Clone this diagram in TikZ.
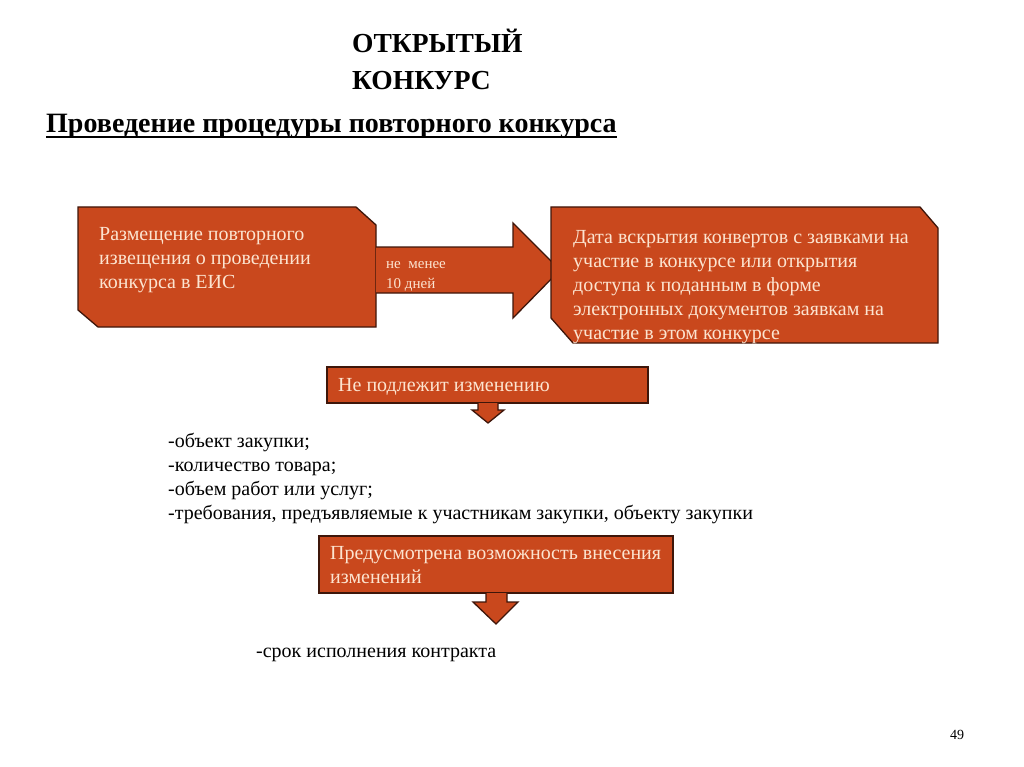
\documentclass[tikz,border=0pt]{standalone}
\usepackage{fontspec}
\setmainfont{Liberation Serif}
\usepackage{xcolor}
\usetikzlibrary{positioning}
\definecolor{boxred}{RGB}{201,72,29}
\definecolor{boxline}{RGB}{62,22,10}
\definecolor{boxtext}{RGB}{252,228,208}
\tikzset{
  redshape/.style={fill=boxred, draw=boxline, line width=1.3pt, line join=miter},
  boxtxt/.style={text=boxtext, font=\fontsize{20}{24}\selectfont, align=left, anchor=base west, inner sep=0pt},
  smalltxt/.style={text=boxtext, font=\fontsize{15}{20}\selectfont, align=left, anchor=base west, inner sep=0pt},
  listtxt/.style={font=\fontsize{20}{24}\selectfont, align=left, anchor=base west, inner sep=0pt},
  titletxt/.style={font=\bfseries\fontsize{27.5}{37}\selectfont, align=left, anchor=base west, inner sep=0pt}
}

\begin{document}
\begin{tikzpicture}[x=1pt,y=-1pt]
\useasboundingbox (0,0) rectangle (1024,767);
% heading (base = last line)
\node[titletxt] (title) at (352,90) {ОТКРЫТЫЙ\\КОНКУРС};
\node[titletxt, font=\bfseries\fontsize{28}{34}\selectfont] (sub) at (46,133) {Проведение процедуры повторного конкурса};
\draw[line width=2pt] ([yshift=-4pt]sub.base west) -- ([yshift=-4pt]sub.base east);
% first row
\draw[redshape] (78,207)--(356,207)--(376,225)--(376,327)--(98,327)--(78,310)--cycle;
\node[boxtxt] (notice) at (99,288) {Размещение повторного\\извещения о проведении\\конкурса в ЕИС};
\draw[redshape] (376,247)--(513,247)--(513,223)--(560,270)--(513,318)--(513,293)--(376,293);
\node[smalltxt] (days) at (386,288) {не\ \ менее\\10 дней};
\draw[redshape] (551,207)--(920,207)--(938,228)--(938,343)--(573,343)--(551,318)--cycle;
\node[boxtxt] (opening) at (573,339) {Дата вскрытия конвертов с заявками на\\участие в конкурсе или открытия\\доступа к поданным в форме\\электронных документов заявкам на\\участие в этом конкурсе};
% fixed terms
\draw[redshape] (327,367) rectangle (648,403);
\node[boxtxt] (fixed) at (338,391) {Не подлежит изменению};
\draw[redshape] (478,403)--(478,410)--(472,410)--(488,423)--(504,410)--(498,410)--(498,403);
\node[listtxt] (fixedlist) at (168,519) {-объект закупки;\\-количество товара;\\-объем работ или услуг;\\-требования, предъявляемые к участникам закупки, объекту закупки};
% changeable terms
\draw[redshape] (319,536) rectangle (673,593);
\node[boxtxt] (change) at (330,583) {Предусмотрена возможность внесения\\изменений};
\draw[redshape] (486,593)--(486,602)--(473,602)--(496,624)--(518,602)--(507,602)--(507,593);
\node[listtxt] (changelist) at (256,657) {-срок исполнения контракта};
\node[listtxt, font=\fontsize{14}{16}\selectfont] (page) at (950,739) {49};
\end{tikzpicture}
\end{document}
